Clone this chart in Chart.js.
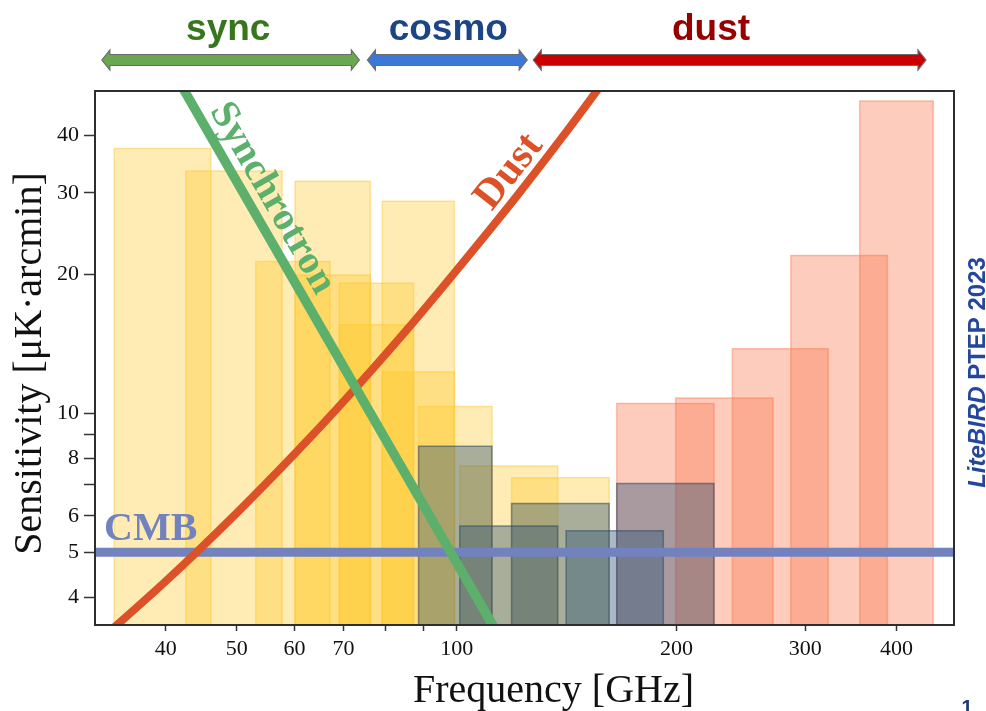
<!DOCTYPE html>
<html>
<head>
<meta charset="utf-8">
<title>LiteBIRD - sensibilidade por banda</title>
<script src="https://cdn.jsdelivr.net/npm/chart.js@4.4.1/dist/chart.umd.min.js"></script>
<style>
  html, body { margin: 0; padding: 0; background: #fff; }
  #wrap { width: 986px; height: 711px; }
</style>
</head>
<body>
<div id="wrap"><canvas id="chart-sensibilidade" width="986" height="711"></canvas></div>
<script>
// Limites dos eixos (escala log nos dois)
const x_min = 32.0, x_max = 479.3;
const y_min = 3.48, y_max = 49.85;

// LFT - bandas (GHz) e sensibilidade (uK.arcmin)
const lft_low  = [34.0, 42.6, 53.1, 60.1, 60.1, 69.1, 69.1, 79.1, 79.1, 88.7, 101.0, 118.9];
const lft_high = [46.1, 57.7, 67.1, 76.2, 76.2, 87.3, 87.3, 99.3, 99.3, 111.8, 137.5, 161.7];
const lft_sens = [37.42, 33.46, 21.31, 19.91, 31.77, 15.55, 19.13, 12.28, 28.77, 10.34, 7.69, 7.25];

// MFT
const mft_low  = [88.7, 101.0, 118.9, 141.2, 165.6];
const mft_high = [111.8, 137.5, 161.7, 191.8, 225.0];
const mft_sens = [8.48, 5.70, 6.38, 5.57, 7.05];

// HFT
const hft_low  = [165.6, 199.4, 238.4, 286.6, 356.1];
const hft_high = [225.0, 271.0, 322.5, 388.5, 449.0];
const hft_sens = [10.50, 10.79, 13.80, 21.95, 47.45];

// Foregrounds e CMB
const sync_freq = [40, 120];
const sync_sens = [58.6, 2.88];
const dust_freq = [32, 40, 50, 60, 70, 85, 100, 120, 140, 160];
const dust_sens = [3.16, 4.33, 6.08, 8.16, 10.6, 15.0, 20.4, 29.1, 39.9, 53.0];
const cmb_sens = 5;

// Ticks dos eixos
const x_ticks  = [40, 50, 60, 70, 80, 90, 100, 200, 300, 400];
const x_labels = [40, 50, 60, 70, 100, 200, 300, 400];
const y_ticks  = [4, 5, 6, 7, 8, 9, 10, 20, 30, 40];
const y_labels = [4, 5, 6, 8, 10, 20, 30, 40];

// Faixas do topo (sync / cosmo / dust)
const faixa_nome  = ['sync', 'cosmo', 'dust'];
const faixa_de    = [32.7, 75.5, 127.3];
const faixa_ate   = [73.6, 124.9, 438.8];
const faixa_texto = [48.7, 97.4, 222.9];

const cor_faixa  = ['#6aa84f', '#3c78d8', '#cc0000'];
const cor_nome   = ['#38761d', '#1c4587', '#990000'];
const cor_sync = '#5cb06c';
const cor_dust = '#dd5128';
const cor_cmb  = '#7282bf';

// Cada banda vira um retangulo preenchido ate o fundo do eixo
function caixa(lo, hi, s) {
  return [{x: lo, y: y_min}, {x: lo, y: s}, {x: hi, y: s}, {x: hi, y: y_min}];
}

function bandas(low, high, sens, fundo, borda, order) {
  return sens.map((s, i) => ({
    data: caixa(low[i], high[i], s),
    backgroundColor: fundo,
    borderColor: borda,
    borderWidth: 1.5,
    fill: 'start',
    pointRadius: 0,
    tension: 0,
    clip: 0,
    order: order,
  }));
}

function linha(freq, sens, cor, largura, order) {
  return {
    data: freq.map((f, i) => ({x: f, y: sens[i]})),
    borderColor: cor,
    borderWidth: largura,
    fill: false,
    pointRadius: 0,
    clip: 0,
    order: order,
  };
}

const ds_sync = linha(sync_freq, sync_sens, cor_sync, 9.5, 0);
const ds_dust = linha(dust_freq, dust_sens, cor_dust, 8, 1);
ds_dust.cubicInterpolationMode = 'monotone';
const ds_cmb = linha([x_min, x_max], [cmb_sens, cmb_sens], cor_cmb, 9, 2);

const data_sens = {
  datasets: [
    ds_sync, ds_dust, ds_cmb,
    ...bandas(mft_low, mft_high, mft_sens, 'rgba(40, 80, 115, 0.4)', 'rgba(40, 70, 100, 0.55)', 3),
    ...bandas(hft_low, hft_high, hft_sens, 'rgba(250, 115, 70, 0.36)', 'rgba(250, 115, 70, 0.45)', 4),
    ...bandas(lft_low, lft_high, lft_sens, 'rgba(255, 200, 40, 0.35)', 'rgba(250, 195, 40, 0.45)', 5),
  ]
};

function texto_girado(ctx, txt, x, y, graus, cor, fonte) {
  ctx.save();
  ctx.translate(x, y);
  ctx.rotate(graus * Math.PI / 180);
  ctx.font = fonte;
  ctx.fillStyle = cor;
  ctx.textAlign = 'center';
  ctx.textBaseline = 'middle';
  ctx.fillText(txt, 0, 0);
  ctx.restore();
}

function seta(ctx, x0, x1, yc, cor) {
  const h1 = 5.5, h2 = 10, L = 8;
  ctx.beginPath();
  ctx.moveTo(x0, yc);
  ctx.lineTo(x0 + L, yc - h2);
  ctx.lineTo(x0 + L, yc - h1);
  ctx.lineTo(x1 - L, yc - h1);
  ctx.lineTo(x1 - L, yc - h2);
  ctx.lineTo(x1, yc);
  ctx.lineTo(x1 - L, yc + h2);
  ctx.lineTo(x1 - L, yc + h1);
  ctx.lineTo(x0 + L, yc + h1);
  ctx.lineTo(x0 + L, yc + h2);
  ctx.closePath();
  ctx.fillStyle = cor;
  ctx.fill();
  ctx.strokeStyle = '#6b6b6b';
  ctx.lineWidth = 1.2;
  ctx.stroke();
}

// Moldura, rotulos das curvas, setas e titulos
const plugin_extras = {
  id: 'extras',
  afterDatasetsDraw(chart) {
    const {ctx, chartArea: a, scales: {x, y}} = chart;
    ctx.save();
    ctx.strokeStyle = '#2e2e2e';
    ctx.lineWidth = 2;
    ctx.strokeRect(a.left, a.top, a.right - a.left, a.bottom - a.top);

    ctx.fillStyle = cor_cmb;
    ctx.font = 'bold 40px "Liberation Serif"';
    ctx.textAlign = 'left';
    ctx.textBaseline = 'alphabetic';
    ctx.fillText('CMB', a.left + 9, y.getPixelForValue(cmb_sens) - 12);
    ctx.restore();

    texto_girado(ctx, 'Synchrotron', x.getPixelForValue(55.9), y.getPixelForValue(29.2), 60,
      cor_sync, 'bold 40px "Liberation Serif"');
    texto_girado(ctx, 'Dust', x.getPixelForValue(118.0), y.getPixelForValue(33.3), -52,
      cor_dust, 'bold 42px "Liberation Serif"');
  },
  afterDraw(chart) {
    const {ctx, scales: {x}} = chart;
    ctx.save();
    faixa_nome.forEach((nome, i) => {
      seta(ctx, x.getPixelForValue(faixa_de[i]), x.getPixelForValue(faixa_ate[i]), 60, cor_faixa[i]);
      ctx.font = 'bold 37px "Liberation Sans"';
      ctx.fillStyle = cor_nome[i];
      ctx.textAlign = 'center';
      ctx.textBaseline = 'alphabetic';
      ctx.fillText(nome, x.getPixelForValue(faixa_texto[i]), 39.5);
    });

    // titulos dos eixos
    ctx.fillStyle = '#111';
    ctx.font = '40px "Liberation Serif"';
    ctx.textAlign = 'center';
    ctx.fillText('Frequency [GHz]', 553.5, 702);
    ctx.save();
    ctx.translate(41, 363.5);
    ctx.rotate(-Math.PI / 2);
    ctx.fillText('Sensitivity [\u03bcK\u00b7arcmin]', 0, 0);
    ctx.restore();

    // referencia na lateral
    ctx.save();
    ctx.translate(984.5, 372.5);
    ctx.rotate(-Math.PI / 2);
    ctx.fillStyle = '#23479a';
    ctx.textAlign = 'left';
    const f1 = 'italic bold 24px "Liberation Sans"', f2 = 'bold 24px "Liberation Sans"';
    ctx.font = f1;
    const w1 = ctx.measureText('LiteBIRD').width;
    ctx.font = f2;
    const w2 = ctx.measureText(' PTEP 2023').width;
    const x0 = -(w1 + w2) / 2;
    ctx.font = f1;
    ctx.fillText('LiteBIRD', x0, 0);
    ctx.font = f2;
    ctx.fillText(' PTEP 2023', x0 + w1, 0);
    ctx.restore();

    ctx.fillStyle = '#1f3b73';
    ctx.font = 'bold 20px "Liberation Sans"';
    ctx.textAlign = 'center';
    ctx.fillText('1', 967, 714);
    ctx.restore();
  }
};

const fonte_ticks = {family: 'Liberation Serif', size: 22};

const config_sens = {
  type: 'line',
  data: data_sens,
  options: {
    responsive: false,
    animation: false,
    events: [],
    layout: { padding: { top: 91, right: 32, bottom: 0, left: 0 } },
    plugins: {
      legend: { display: false },
      tooltip: { enabled: false },
    },
    scales: {
      x: {
        type: 'logarithmic',
        min: x_min,
        max: x_max,
        bounds: 'data',
        afterBuildTicks: (s) => { s.ticks = x_ticks.map(v => ({value: v})); },
        afterFit: (s) => { s.height = 86; },
        ticks: {
          autoSkip: false,
          maxRotation: 0,
          padding: 5,
          color: '#111',
          font: fonte_ticks,
          callback: (v) => x_labels.includes(v) ? String(v) : '',
        },
        grid: { drawOnChartArea: false, tickLength: 6, tickColor: '#333', tickWidth: 1.5 },
        border: { display: false },
      },
      y: {
        type: 'logarithmic',
        min: y_min,
        max: y_max,
        bounds: 'data',
        afterBuildTicks: (s) => { s.ticks = y_ticks.map(v => ({value: v})); },
        afterFit: (s) => { s.width = 95; },
        ticks: {
          autoSkip: false,
          padding: 5,
          color: '#111',
          font: fonte_ticks,
          callback: (v) => y_labels.includes(v) ? String(v) : '',
        },
        grid: { drawOnChartArea: false, tickLength: 11, tickColor: '#333', tickWidth: 1.5 },
        border: { display: false },
      }
    }
  },
  plugins: [plugin_extras],
};

const myChart_sens = new Chart(
  document.getElementById('chart-sensibilidade'),
  config_sens
);
</script>
</body>
</html>
